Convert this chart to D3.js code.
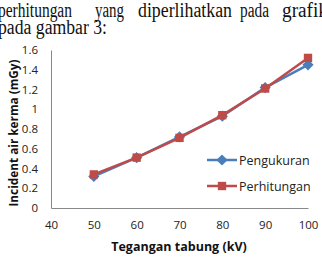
<!DOCTYPE html>
<html>
<head>
<meta charset="utf-8">
<script src="https://cdn.jsdelivr.net/npm/d3@7"></script>
<style>
  body { margin: 0; background: #fff; }
  svg { display: block; }
</style>
</head>
<body>
<div id="chart"></div>
<script>
// Data
const TEGANGAN = [50, 60, 70, 80, 90, 100];
const PENGUKURAN = [0.32, 0.51, 0.72, 0.93, 1.22, 1.45];
const PERHITUNGAN = [0.34, 0.51, 0.71, 0.94, 1.21, 1.52];
const X_TICKS = [40, 50, 60, 70, 80, 90, 100];
const Y_TICKS = [0, 0.2, 0.4, 0.6, 0.8, 1, 1.2, 1.4, 1.6];
const SERIES = [
    { name: "Pengukuran", values: PENGUKURAN, color: "#4a7ebb", symbol: d3.symbolDiamond2 },
    { name: "Perhitungan", values: PERHITUNGAN, color: "#be4b48", symbol: d3.symbolSquare }
];
// words of the scanned paragraph: [text, left x, width]
const HEADER_LINE1 = [["perhitungan", -2, 74], ["yang", 95, 29], ["diperlihatkan", 138, 94], ["pada", 240, 29], ["grafik", 282, 46]];
const HEADER_LINE2 = [["pada gambar 3:", -2, 109]];

const W = 322, H = 260;
const svg = d3.select("#chart").append("svg").attr("width", W).attr("height", H);

// paragraph text above the chart (scanned text is squeezed sideways)
const serif = "'Liberation Serif', 'DejaVu Serif', serif";
[[HEADER_LINE1, 16.5], [HEADER_LINE2, 33.5]].forEach(([words, base]) => {
    svg.selectAll(null).data(words).enter().append("text")
        .attr("x", d => d[1]).attr("y", base)
        .attr("textLength", d => d[2]).attr("lengthAdjust", "spacingAndGlyphs")
        .style("font-family", serif).style("font-size", "20px").attr("fill", "#111")
        .text(d => d[0]);
});

// scales
const x = d3.scaleLinear().domain([40, 100]).range([51, 308]);
const y = d3.scaleLinear().domain([0, 1.6]).range([208, 50]);
const font = "'Open Sans', 'Noto Sans', sans-serif";

// axes
const yAxis = svg.append("g").attr("transform", "translate(51,0)")
    .call(d3.axisLeft(y).tickValues(Y_TICKS).tickSize(0).tickPadding(13).tickFormat(d3.format("~g")));
yAxis.select(".domain").attr("stroke", "#888").attr("stroke-width", 1);
yAxis.selectAll("text").style("font-family", font).style("font-size", "11.5px").attr("fill", "#222");

const xAxis = svg.append("g").attr("transform", "translate(0,208)")
    .call(d3.axisBottom(x).tickValues(X_TICKS).tickSize(0).tickPadding(13));
xAxis.select(".domain").attr("stroke", "#888").attr("stroke-width", 1);
xAxis.selectAll("text").style("font-family", font).style("font-size", "11.5px").attr("fill", "#222");

// axis titles
svg.append("text").attr("x", 179).attr("y", 251).attr("text-anchor", "middle")
    .style("font-family", font).style("font-size", "12.5px").style("font-weight", "bold").attr("fill", "#111")
    .text("Tegangan tabung (kV)");
svg.append("text").attr("transform", "translate(18,133) rotate(-90)").attr("text-anchor", "middle")
    .style("font-family", font).style("font-size", "11.8px").style("font-weight", "bold").attr("fill", "#111")
    .text("Incident air kerma (mGy)");

// lines and markers
const line = d3.line().x((d, i) => x(TEGANGAN[i])).y(d => y(d));
SERIES.forEach(s => {
    svg.append("path").datum(s.values).attr("d", line)
        .attr("fill", "none").attr("stroke", s.color).attr("stroke-width", 2.5);
    svg.selectAll(null).data(s.values).enter().append("path")
        .attr("transform", (d, i) => `translate(${x(TEGANGAN[i])},${y(d)})`)
        .attr("d", d3.symbol().type(s.symbol).size(s.symbol === d3.symbolSquare ? 70 : 80))
        .attr("fill", s.color);
});

// legend
const legend = svg.selectAll(".leg").data(SERIES).enter().append("g")
    .attr("transform", (d, i) => `translate(207,${160 + i * 26})`);
legend.append("line").attr("x1", 0).attr("x2", 30).attr("stroke", d => d.color).attr("stroke-width", 2.5);
legend.append("path").attr("transform", "translate(15,0)")
    .attr("d", d => d3.symbol().type(d.symbol).size(d.symbol === d3.symbolSquare ? 70 : 80)())
    .attr("fill", d => d.color);
legend.append("text").attr("x", 32).attr("y", 4.5)
    .style("font-family", font).style("font-size", "12.5px").attr("fill", "#222")
    .text(d => d.name);
</script>
</body>
</html>
